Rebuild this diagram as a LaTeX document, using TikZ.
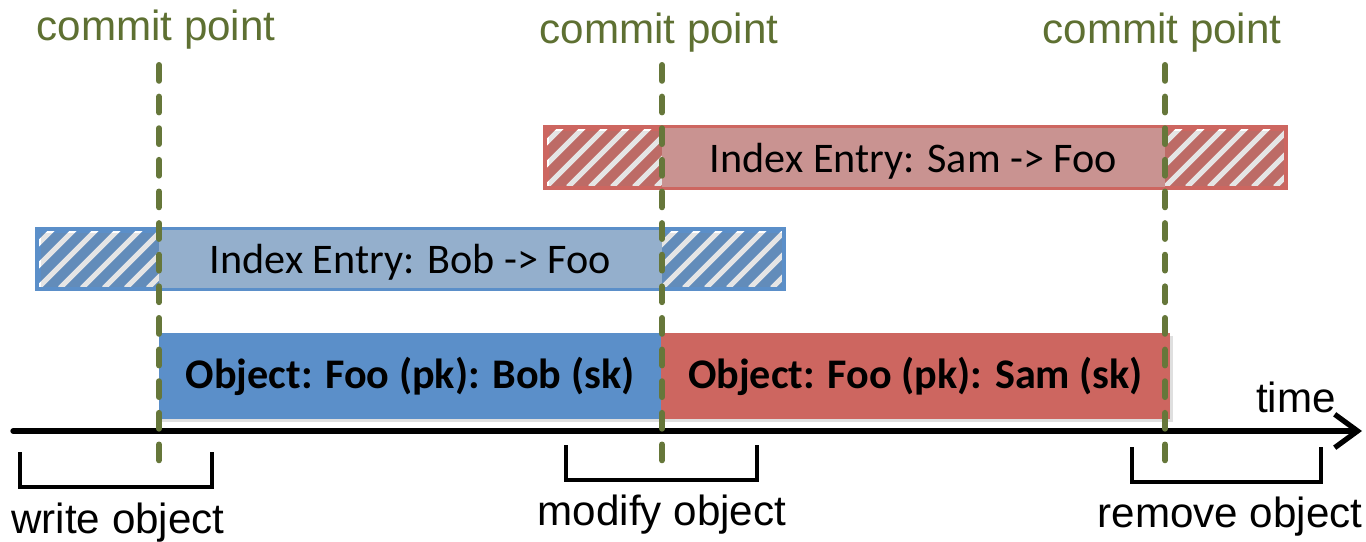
\documentclass[tikz,border=0pt]{standalone}
\usepackage{fontspec}
\setmainfont{Liberation Sans}
\newfontfamily\calib{Carlito}
\usetikzlibrary{arrows.meta,fit,shadows}

\definecolor{objblue}{HTML}{5B8FC9}
\definecolor{idxblue}{HTML}{94AFCC}
\definecolor{objred}{HTML}{CD6660}
\definecolor{idxred}{HTML}{C99391}
\definecolor{commitgreen}{HTML}{66773A}
\definecolor{textgreen}{HTML}{5E7032}

\tikzset{
  objbox/.style={fill=#1, inner sep=0pt,
    drop shadow={opacity=0.25, shadow xshift=1.5pt, shadow yshift=-1.5pt}},
  objtext/.style={inner sep=0pt, font=\calib\bfseries\fontsize{24}{28}\selectfont},
  idxmid/.style={fill=#1, inner sep=0pt},
  idxtext/.style={inner sep=0pt, font=\calib\fontsize{24}{28}\selectfont},
  idxframe/.style={draw=#1, line width=1.7pt, inner sep=0pt,
    drop shadow={opacity=0.2, shadow xshift=1.5pt, shadow yshift=-1.5pt}},
  commitline/.style={draw=commitgreen, line width=3.4pt, line cap=round, dash pattern=on 9pt off 9pt},
  commitlabel/.style={text=textgreen, font=\fontsize{24}{28}\selectfont, anchor=base},
  bracket/.style={line width=2.3pt},
  oplabel/.style={font=\fontsize{24}{28}\selectfont, anchor=base},
}

% hatched end of an index entry: x1, y1, x2, y2, colour
\newcommand\hatchbar[5]{%
  \begin{scope}
    \clip (#1,#2) rectangle (#3,#4);
    \fill[#5] (#1,#2) rectangle (#3,#4);
    \foreach \s in {-3,...,6}
      \draw[white, line width=2.9pt] ({#1+22*\s},#4) -- ++(64,-64);
  \end{scope}}

\begin{document}
\begin{tikzpicture}[x=0.02cm,y=-0.02cm]
\useasboundingbox (0,0) rectangle (1366,541);
% Index entry Sam -> Foo
\hatchbar{546}{128}{662}{187}{objred}
\hatchbar{1165}{128}{1285}{187}{objred}
\node[idxframe=objred, fit={(546,128) (1285,187)}] (samframe) {};
\node[idxmid=idxred, fit={(662,128) (1165,187)}] (samidx) {};
\node[idxtext] (samidxtext) at ([yshift=-2pt]samidx.center) {Index Entry: Sam -> Foo};
\draw[objred, line width=1.7pt] (samframe.north west) rectangle (samframe.south east);
% Index entry Bob -> Foo
\hatchbar{38}{230}{159}{288}{objblue}
\hatchbar{662}{230}{783}{288}{objblue}
\node[idxframe=objblue, fit={(38,230) (783,288)}] (bobframe) {};
\node[idxmid=idxblue, fit={(159,230) (662,288)}] (bobidx) {};
\node[idxtext] (bobidxtext) at ([yshift=-2pt]bobidx.center) {Index Entry: Bob -> Foo};
\draw[objblue, line width=1.7pt] (bobframe.north west) rectangle (bobframe.south east);
% Objects
\node[objbox=objblue, fit={(159,333) (661,419)}] (bobobj) {};
\node[objtext] (bobobjtext) at (bobobj.center) {Object: Foo (pk): Bob (sk)};
\node[objbox=objred, fit={(661,333) (1170,419)}] (samobj) {};
\node[objtext] (samobjtext) at (samobj.center) {Object: Foo (pk): Sam (sk)};
% Draw the time axis
\coordinate (t0) at (13,431);
\coordinate (t1) at (1362,431);
\draw[line width=3pt, line cap=round, -{Straight Barb[length=13pt,width=19pt]}] (t0) -- (t1);
\node[oplabel] (time) at (1296,412) {time};
% Operation brackets
\draw[bracket] (20,452) |- (212,487) -- (212,452);
\node[oplabel] (write) at (118,533) {write object};
\draw[bracket] (566,445) |- (757,480) -- (757,445);
\node[oplabel] (modify) at (662,525) {modify object};
\draw[bracket] (1132,447) |- (1321,482) -- (1321,447);
\node[oplabel] (remove) at (1230,527) {remove object};
% Commit points
\foreach \cx/\cy/\nm in {159/40/A, 662/43/B, 1165/43/C} {
  \node[commitlabel] (commit\nm) at (\cx-3,\cy) {commit point};
  \coordinate (top\nm) at (\cx,65);
  \coordinate (bot\nm) at (\cx,470);
  \draw[commitline] (top\nm) -- (bot\nm);
}
\end{tikzpicture}
\end{document}
